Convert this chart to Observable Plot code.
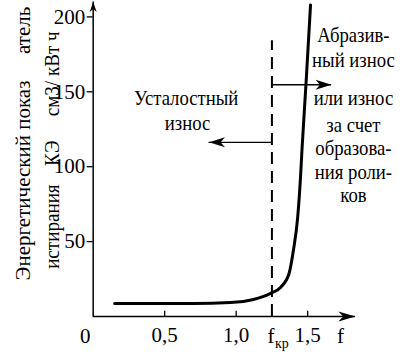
<!DOCTYPE html>
<html><head><meta charset="utf-8">
<script src="https://cdn.jsdelivr.net/npm/d3@7"></script>
<script src="https://cdn.jsdelivr.net/npm/@observablehq/plot@0.6"></script>
<style>
body{margin:0;background:#fff} svg{display:block}
svg text{font-family:'Liberation Serif','Times New Roman',serif !important;}
</style>
</head><body><div id="chart"></div>
<script>
// ---- data ----
const curveX = [0.15, 0.70, 0.96, 1.12, 1.24, 1.31, 1.37, 1.40, 1.43, 1.45, 1.46, 1.49, 1.52];
const curveY = [8.7, 8.7, 9.3, 11.3, 15.4, 19.4, 28.7, 44, 66, 93, 111, 158, 208];
const yTicks = [50, 100, 150, 200];
const xTicks = [0.5, 1.0, 1.5];
const fCritical = 1.25;
const fCriticalTop = 184;
const xAxisEnd = 1.834;
const yAxisEnd = 210;

// annotation texts
const leftNoteLines = ["Усталостный", "износ"];
const leftNoteX = [0.65, 0.66];
const leftNoteY = [141.5, 124.8];
const rightNoteLines = ["Абразив-", "ный износ", "или износ", "за счет", "образова-", "ния роли-", "ков"];
const rightNoteX = 1.82;
const rightNoteY = [183.1, 166.4, 140.9, 123, 107.5, 91.9, 76.3];
const arrowFrom = [fCritical, fCritical];
const arrowTo = [1.667, 0.81];
const arrowY = [154.7, 116.3];
const yLabelOuter = ["Энергетический показ", "атель"];
const yLabelOuterY = [90.8, 191];
const yLabelInner = ["см3/ кВт ч", "КЭ", "истирания"];
const yLabelInnerY = [162, 109, 60];

const curve = curveX.map((x, i) => ({x, y: curveY[i]}));
const leftNote = leftNoteLines.map((t, i) => ({t, x: leftNoteX[i], y: leftNoteY[i]}));
const rightNote = rightNoteLines.map((t, i) => ({t, x: rightNoteX, y: rightNoteY[i]}));
const arrows = arrowY.map((y, i) => ({y, x1: arrowFrom[i], x2: arrowTo[i], angle: arrowTo[i] > arrowFrom[i] ? 0 : 180}));
const outer = yLabelOuter.map((t, i) => ({t, y: yLabelOuterY[i]}));
const inner = yLabelInner.map((t, i) => ({t, y: yLabelInnerY[i]}));

// filled barbed arrowhead, tip at the origin, pointing right
function headSymbol(len, half) {
  return {draw(ctx) {
    ctx.moveTo(0, 0);
    ctx.lineTo(-len, -half);
    ctx.lineTo(-len * 0.72, 0);
    ctx.lineTo(-len, half);
    ctx.closePath();
  }};
}
const serif = "'Liberation Serif', 'Times New Roman', serif";

const chart = Plot.plot({
  width: 402, height: 357,
  marginLeft: 92.67, marginRight: 23.33, marginTop: 1.42, marginBottom: 41,
  x: {domain: [0, 2], label: null},
  y: {domain: [0, 210], label: null},
  style: {fontFamily: serif, fontSize: "21px", color: "black", background: "white", overflow: "visible"},
  marks: [
    Plot.axisY({ticks: yTicks, tickSize: 6, tickPadding: 2, fontSize: 21, fontFamily: serif, strokeWidth: 1.3, label: null}),
    Plot.axisX({ticks: xTicks, tickSize: 0, tickPadding: 11, fontSize: 21, fontFamily: serif, label: null,
      tickFormat: d => d.toFixed(1).replace(".", ",")}),
    Plot.ruleX(xTicks, {y1: 0, y2: 3.5, strokeWidth: 1.3}),
    Plot.ruleY([0], {x1: 0, x2: xAxisEnd, strokeWidth: 1.5}),
    Plot.dot([xAxisEnd], {x: d => d, y: 0, symbol: headSymbol(17, 5), r: 5, fill: "black", stroke: "none"}),
    Plot.ruleX([0], {y1: 0, y2: yAxisEnd, strokeWidth: 1.5}),
    Plot.dot([yAxisEnd], {x: 0, y: d => d, symbol: headSymbol(10, 3.5), rotate: -90, r: 5, fill: "black", stroke: "none"}),
    Plot.ruleX([fCritical], {y1: 0, y2: fCriticalTop, strokeWidth: 2, strokeDasharray: "12,7"}),
    Plot.ruleY(arrows, {y: "y", x1: "x1", x2: "x2", strokeWidth: 1.3}),
    Plot.dot(arrows, {x: "x2", y: "y", rotate: "angle", symbol: headSymbol(16, 5), r: 5, fill: "black", stroke: "none"}),
    Plot.line(curve, {x: "x", y: "y", curve: "monotone-x", strokeWidth: 3}),
    Plot.text(["0"], {x: 0, y: 0, text: d => d, dx: -8, dy: 26, lineAnchor: "bottom", fontSize: 21, fontFamily: serif}),
    Plot.text(["f"], {x: 1.73, y: 0, text: d => d, dy: 26, lineAnchor: "bottom", fontSize: 21, fontFamily: serif}),
    Plot.text(["f"], {x: fCritical, y: 0, text: d => d, dx: -1, dy: 26, lineAnchor: "bottom", fontSize: 21, fontFamily: serif}),
    Plot.text(["кр"], {x: fCritical, y: 0, text: d => d, dx: 3, dy: 31, textAnchor: "start", lineAnchor: "bottom", fontSize: 14, fontFamily: serif}),
    Plot.text(leftNote, {x: "x", y: "y", text: "t", lineAnchor: "bottom", fontSize: 22, fontFamily: serif}),
    Plot.text(rightNote, {x: "x", y: "y", text: "t", lineAnchor: "bottom", fontSize: 22, fontFamily: serif}),
    Plot.text(outer, {x: 0, y: "y", text: "t", rotate: -90, dx: -70, fontSize: 21, fontFamily: serif}),
    Plot.text(inner, {x: 0, y: "y", text: "t", rotate: -90, dx: -41, fontSize: 21, fontFamily: serif})
  ]
});
document.getElementById("chart").appendChild(chart);

// condensed lettering, as in the reference (selected by their content)
function condense(strings, s) {
  const set = new Set(strings);
  chart.querySelectorAll("text").forEach(el => {
    if (!set.has(el.textContent)) return;
    const t = el.getAttribute("transform");
    if (t) el.setAttribute("transform", t + ` scale(${s},1)`);
    else {
      const x = +el.getAttribute("x") || 0, y = +el.getAttribute("y") || 0;
      el.setAttribute("transform", `translate(${x},${y}) scale(${s},1) translate(${-x},${-y})`);
    }
  });
}
condense([...leftNoteLines, ...rightNoteLines], 0.85);
condense(yLabelInner, 0.91);
</script>
</body></html>
